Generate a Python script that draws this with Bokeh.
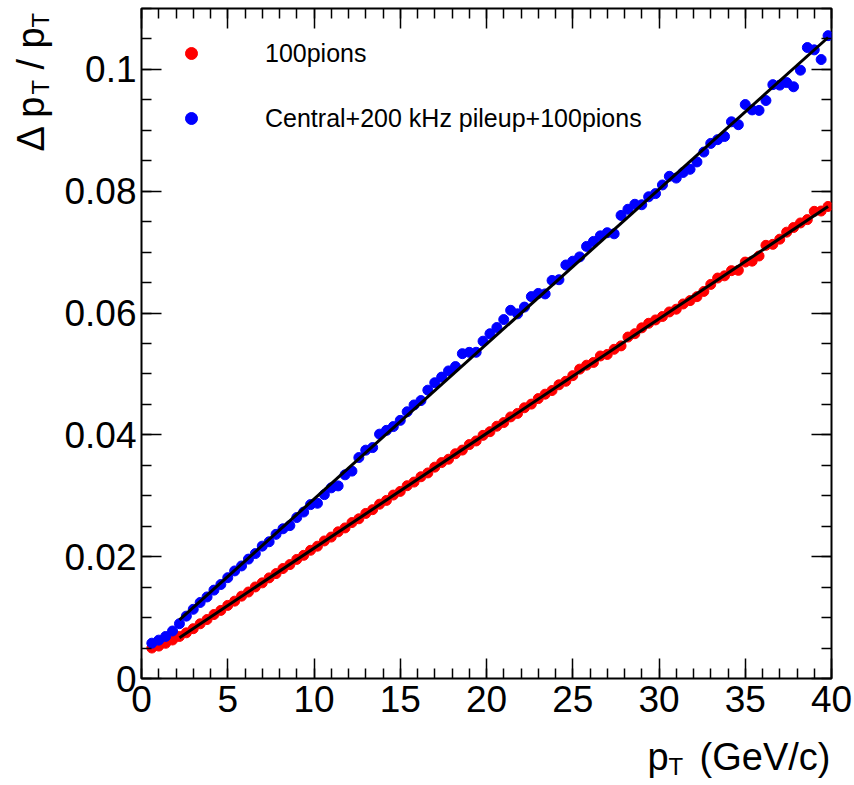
import math
from bokeh.plotting import figure
from bokeh.layouts import row, column
from bokeh.models import (Range1d, LinearAxis, FixedTicker, CustomJSTickFormatter,
                          Legend, LegendItem)
from bokeh.core.properties import value
from bokeh.embed import file_html
from bokeh.resources import INLINE

# ---------------- data ----------------
pt_bins = [0.6, 1.0, 1.4, 1.8, 2.2, 2.6, 3.0, 3.4, 3.8, 4.2,
           4.6, 5.0, 5.4, 5.8, 6.2, 6.6, 7.0, 7.4, 7.8, 8.2,
           8.6, 9.0, 9.4, 9.8, 10.2, 10.6, 11.0, 11.4, 11.8, 12.2,
           12.6, 13.0, 13.4, 13.8, 14.2, 14.6, 15.0, 15.4, 15.8, 16.2,
           16.6, 17.0, 17.4, 17.8, 18.2, 18.6, 19.0, 19.4, 19.8, 20.2,
           20.6, 21.0, 21.4, 21.8, 22.2, 22.6, 23.0, 23.4, 23.8, 24.2,
           24.6, 25.0, 25.4, 25.8, 26.2, 26.6, 27.0, 27.4, 27.8, 28.2,
           28.6, 29.0, 29.4, 29.8, 30.2, 30.6, 31.0, 31.4, 31.8, 32.2,
           32.6, 33.0, 33.4, 33.8, 34.2, 34.6, 35.0, 35.4, 35.8, 36.2,
           36.6, 37.0, 37.4, 37.8, 38.2, 38.6, 39.0, 39.4, 39.8]

res_100pions = [0.00500, 0.00532, 0.00578, 0.00632, 0.00690, 0.00750, 0.00818, 0.00898, 0.00968, 0.01050,
                0.01118, 0.01200, 0.01270, 0.01352, 0.01420, 0.01503, 0.01570, 0.01652, 0.01722, 0.01805,
                0.01870, 0.01955, 0.02022, 0.02105, 0.02172, 0.02258, 0.02322, 0.02408, 0.02472, 0.02560,
                0.02622, 0.02710, 0.02772, 0.02862, 0.02924, 0.03012, 0.03072, 0.03165, 0.03225, 0.03312,
                0.03375, 0.03470, 0.03545, 0.03600, 0.03690, 0.03750, 0.03840, 0.03900, 0.03992, 0.04052,
                0.04142, 0.04202, 0.04295, 0.04352, 0.04445, 0.04505, 0.04595, 0.04668, 0.04728, 0.04822,
                0.04880, 0.04972, 0.05079, 0.05144, 0.05189, 0.05295, 0.05320, 0.05405, 0.05461, 0.05606,
                0.05661, 0.05757, 0.05832, 0.05887, 0.05943, 0.06018, 0.06063, 0.06149, 0.06204, 0.06269,
                0.06355, 0.06470, 0.06575, 0.06611, 0.06696, 0.06701, 0.06837, 0.06852, 0.06937, 0.07112,
                0.07128, 0.07213, 0.07328, 0.07404, 0.07479, 0.07534, 0.07670, 0.07675, 0.07750]

res_pileup = [0.00580, 0.00630, 0.00690, 0.00780, 0.00900, 0.01024, 0.01136, 0.01248, 0.01339, 0.01451,
              0.01543, 0.01655, 0.01766, 0.01848, 0.01960, 0.02051, 0.02173, 0.02245, 0.02367, 0.02458,
              0.02510, 0.02642, 0.02733, 0.02855, 0.02877, 0.03019, 0.03130, 0.03162, 0.03344, 0.03405,
              0.03627, 0.03749, 0.03791, 0.04012, 0.04074, 0.04136, 0.04238, 0.04379, 0.04491, 0.04563,
              0.04734, 0.04856, 0.04948, 0.05050, 0.05121, 0.05333, 0.05355, 0.05356, 0.05538, 0.05660,
              0.05762, 0.05893, 0.06045, 0.05987, 0.06098, 0.06270, 0.06322, 0.06314, 0.06535, 0.06547,
              0.06789, 0.06851, 0.06922, 0.07094, 0.07176, 0.07267, 0.07319, 0.07301, 0.07603, 0.07704,
              0.07786, 0.07778, 0.07909, 0.07961, 0.08103, 0.08245, 0.08216, 0.08308, 0.08360, 0.08481,
              0.08643, 0.08785, 0.08847, 0.08898, 0.09140, 0.09092, 0.09423, 0.09335, 0.09327, 0.09489,
              0.09750, 0.09742, 0.09784, 0.09715, 0.09987, 0.10359, 0.10321, 0.10162, 0.10554]

fit_pt = [2.2, 39.8]
fit_100pions = [0.0067, 0.0775]
fit_pileup = [0.00962, 0.10524]

series_labels = ["100pions", "Central+200 kHz pileup+100pions"]

x_ticks = [0, 5, 10, 15, 20, 25, 30, 35, 40]
x_minor_ticks = list(range(0, 41))
y_ticks = [0, 0.02, 0.04, 0.06, 0.08, 0.1]
y_minor_ticks = [0.0, 0.005, 0.01, 0.015, 0.02, 0.025, 0.03, 0.035, 0.04, 0.045, 0.05,
                 0.055, 0.06, 0.065, 0.07, 0.075, 0.08, 0.085, 0.09, 0.095, 0.1, 0.105, 0.11]

# axis-title pieces
x_title_parts = ["p", "T", "(GeV/c)"]
y_title_parts = ["\u0394 p", "T", "/ p", "T"]

FONT = "Liberation Sans"
TS = "38px"   # title size
SS = "24px"   # subscript size

W, H = 854, 785
LEFT_W = 56      # width of the y-title strip
BOTTOM_H = 55    # height of the x-title strip
FL, FR, FT = 141, 831, 8   # frame left / right / top (canvas px)

# ---------------- main figure ----------------
p = figure(width=W - LEFT_W, height=H - BOTTOM_H, x_range=Range1d(0, 40), y_range=Range1d(0, 0.11),
           output_backend="svg", toolbar_location=None,
           min_border_left=FL - LEFT_W, min_border_right=W - FR, min_border_top=FT,
           min_border_bottom=52)
p.xgrid.visible = False
p.ygrid.visible = False
p.background_fill_color = "white"
p.border_fill_color = "white"
p.outline_line_color = "black"
p.outline_line_width = 2

r_red = p.scatter(pt_bins, res_100pions, size=10, color="#ff0000", marker="circle")
r_blue = p.scatter(pt_bins, res_pileup, size=10, color="#0000ff", marker="circle")
p.line(fit_pt, fit_100pions, line_color="black", line_width=3)
p.line(fit_pt, fit_pileup, line_color="black", line_width=3)

ax_bottom = p.below[0]
ax_left = p.left[0]

xticker = FixedTicker(ticks=x_ticks, minor_ticks=x_minor_ticks)
yticker = FixedTicker(ticks=y_ticks, minor_ticks=y_minor_ticks)
ax_bottom.ticker = xticker
ax_left.ticker = yticker
ax_left.formatter = CustomJSTickFormatter(
    code="return tick.toFixed(2).replace(/0+$/, '').replace(/\\.$/, '');")

ax_top = LinearAxis(ticker=xticker, formatter=CustomJSTickFormatter(code="return '';"))
ax_right = LinearAxis(ticker=yticker, formatter=CustomJSTickFormatter(code="return '';"))
p.add_layout(ax_top, "above")
p.add_layout(ax_right, "right")

for ax in [ax_bottom, ax_left, ax_top, ax_right]:
    ax.axis_line_color = None
    ax.major_tick_in = 20
    ax.major_tick_out = 0
    ax.minor_tick_in = 10
    ax.minor_tick_out = 0
    ax.major_tick_line_color = "black"
    ax.minor_tick_line_color = "black"
    ax.major_tick_line_width = 1.5
    ax.minor_tick_line_width = 1.5
    ax.major_label_text_font = FONT
    ax.major_label_text_font_size = "37px"
    ax.major_label_text_color = "black"
for ax in [ax_top, ax_right]:
    ax.major_label_standoff = 0
    ax.major_label_text_font_size = "1px"
ax_bottom.major_label_standoff = 7
ax_left.major_label_standoff = 5

legend = Legend(items=[LegendItem(label=series_labels[0], renderers=[r_red]),
                       LegendItem(label=series_labels[1], renderers=[r_blue])],
                location=(35, 543), orientation="vertical",
                border_line_color=None, background_fill_alpha=0,
                padding=0, margin=0, spacing=31,
                glyph_width=30, glyph_height=34, label_height=34,
                label_standoff=59, label_text_font=FONT, label_text_font_size="25px",
                label_text_color="black")
p.add_layout(legend)


def strip(width, height, xr, yr, **borders):
    f = figure(width=width, height=height, x_range=Range1d(*xr), y_range=Range1d(*yr),
               output_backend="svg", toolbar_location=None, x_axis_type=None, y_axis_type=None,
               **borders)
    f.xgrid.visible = False
    f.ygrid.visible = False
    f.outline_line_color = None
    f.background_fill_color = "white"
    f.border_fill_color = "white"
    return f


# ---------------- y-title strip (left, pixel coordinates) ----------------
yt = strip(LEFT_W, H, (0, LEFT_W), (0, H), min_border=0)
ang = math.pi / 2
yt_x = [30, 40, 30, 40]
yt_y = [H - 151, H - 94, H - 69, H - 27]
yt_size = [TS, SS, TS, SS]
for t, xx, yy, sz in zip(y_title_parts, yt_x, yt_y, yt_size):
    yt.text(x=[xx], y=[yy], text=[t], angle=ang, text_align="left", text_baseline="alphabetic",
            text_font=value(FONT), text_font_size=value(sz), text_color="black")

# ---------------- x-title strip (bottom, frame-aligned pixel coordinates) ----------------
xt = strip(W - LEFT_W, BOTTOM_H, (0, FR - FL), (0, BOTTOM_H),
           min_border_left=FL - LEFT_W, min_border_right=W - FR, min_border_top=0, min_border_bottom=0)
xt_x = [647 - FL, 668 - FL, 830 - FL]
xt_y = [29, 19, 29]
xt_align = ["left", "left", "right"]
xt_size = [TS, SS, TS]
for t, xx, yy, al, sz in zip(x_title_parts, xt_x, xt_y, xt_align, xt_size):
    xt.text(x=[xx], y=[yy], text=[t], text_align=al, text_baseline="alphabetic",
            text_font=value(FONT), text_font_size=value(sz), text_color="black")

layout = row(yt, column(p, xt, spacing=0), spacing=0)

open("out.html", "w").write(file_html(layout, INLINE))
